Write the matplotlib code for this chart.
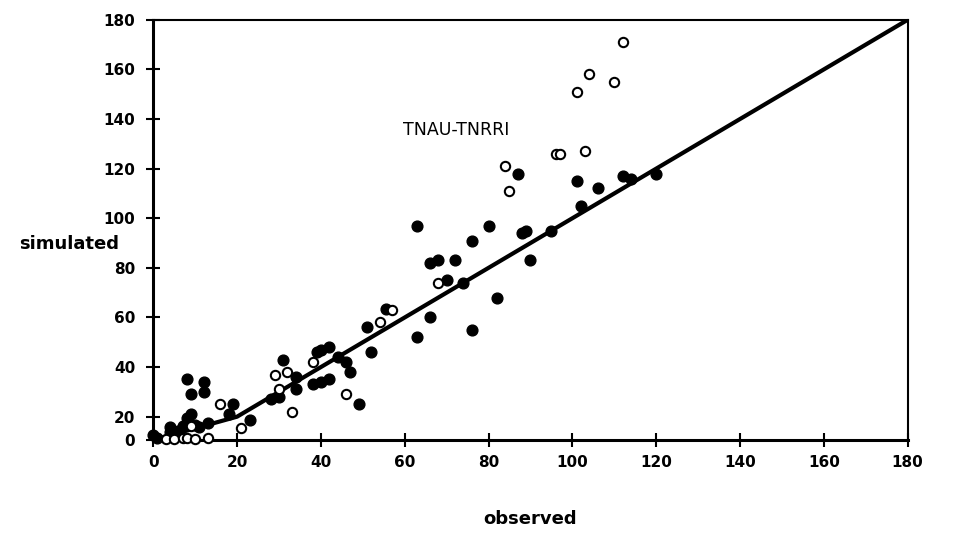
import numpy as np
import matplotlib.pyplot as plt

# observed vs simulated, filled and open symbols
obs_filled = [0, 1, 4, 4, 6, 7, 8, 8, 9, 12, 9, 10, 12, 13, 11, 8,
              18, 19, 23, 28, 30, 31, 34, 34, 38, 39, 40, 40, 42, 42, 44,
              46, 47, 49, 51, 52, 55.5, 63, 63, 66, 66, 68, 70, 72, 74, 76, 76,
              80, 82, 87, 88, 89, 90, 95, 101, 102, 106, 112, 114, 120]
sim_filled = [4, 2, 11, 7, 8, 12, 19, 35, 29, 34, 21, 13, 30, 15, 11, 15,
              21, 25, 17, 27, 28, 43, 31, 36, 33, 46, 34, 47, 48, 35, 44,
              42, 38, 25, 56, 46, 63.5, 52, 97, 60, 82, 83, 75, 83, 74, 91, 55,
              97, 68, 118, 94, 95, 83, 95, 115, 105, 112, 117, 116, 118]

obs_open = [3, 5, 7, 8, 10, 13, 21, 16, 9, 29, 32, 30, 33, 38, 46, 54, 57,
            68, 84, 85, 96, 97, 103, 101, 104, 110, 112]
sim_open = [1, 1, 2, 2, 0.5, 1.5, 10, 25, 12, 37, 38, 31, 22, 42, 29, 58, 63,
            74, 121, 111, 126, 126, 127, 151, 158, 155, 171]

ticks = [0, 20, 40, 60, 80, 100, 120, 140, 160, 180]

# the scanned original squeezes the 0-20 band of the y axis
k = 0.47


def fwd(y):
    y = np.asarray(y, dtype=float)
    return np.where(y < 20, y * k, 20 * k + (y - 20))


def inv(u):
    u = np.asarray(u, dtype=float)
    return np.where(u < 20 * k, u / k, u - 20 * k + 20)


fig = plt.figure(figsize=(9.76, 5.5), dpi=100)
ax = fig.add_axes([0.157, 0.2, 0.773, 0.764])
ax.set_yscale('function', functions=(fwd, inv))

ax.plot([0, 20, 180], [0, 20, 180], color='black', lw=3, zorder=2)
ax.scatter(obs_filled, sim_filled, s=60, color='black', zorder=3, clip_on=False)
ax.scatter(obs_open, sim_open, s=45, facecolor='white', edgecolor='black',
           linewidths=1.5, zorder=4, clip_on=False)

ax.text(59.5, 135.5, 'TNAU-TNRRI', fontsize=12.5, va='center',
        family='Liberation Sans Narrow')

ax.set_xlim(0, 180)
ax.set_ylim(0, 180)
ax.set_xticks(ticks)
ax.set_yticks(ticks)
ax.yaxis.set_minor_locator(plt.NullLocator())
ax.set_yticklabels([str(t) for t in ticks])
for side in ['left', 'bottom']:
    ax.spines[side].set_linewidth(2.2)
for side in ['top', 'right']:
    ax.spines[side].set_linewidth(1.5)
ax.tick_params(direction='inout', length=10, width=1.5, labelsize=11)
ax.tick_params(axis='y', pad=8)
ax.tick_params(axis='x', pad=6)
for lab in ax.get_xticklabels() + ax.get_yticklabels():
    lab.set_fontweight('heavy')

ax.set_xlabel('observed', fontsize=13, fontweight='heavy')
ax.xaxis.set_label_coords(0.5, -0.166)
ax.set_ylabel('simulated', fontsize=13, fontweight='heavy', rotation=0,
              ha='right', va='center')
ax.yaxis.set_label_coords(-0.045, 0.467)

fig.savefig('out.png')
